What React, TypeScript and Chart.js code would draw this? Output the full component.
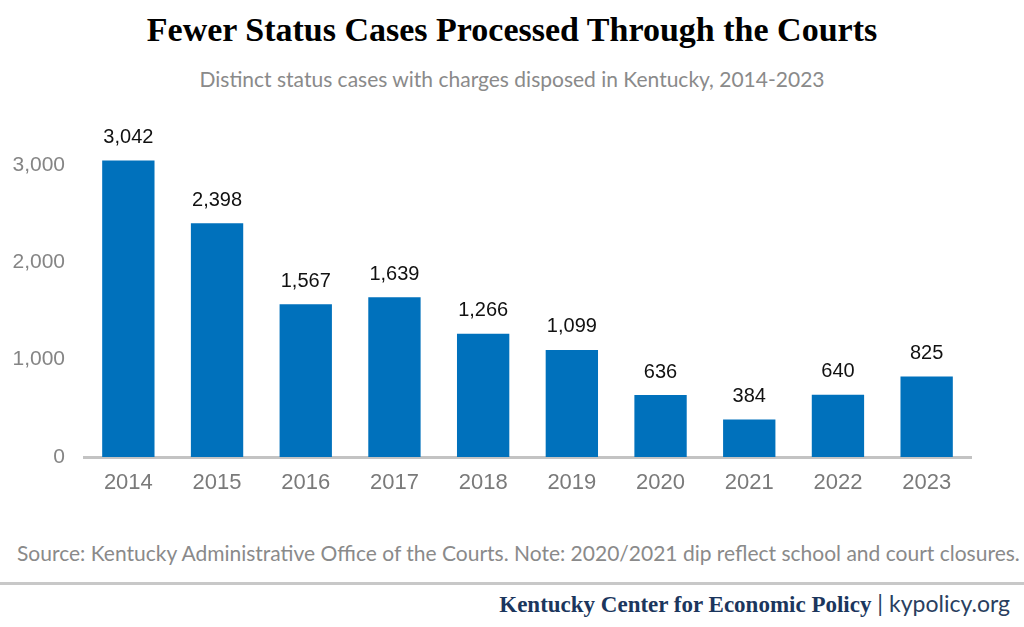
import React, { useEffect, useRef } from "react";
import { Chart, registerables } from "chart.js";

Chart.register(...registerables);

const years = ["2014", "2015", "2016", "2017", "2018", "2019", "2020", "2021", "2022", "2023"];
const cases = [3042, 2398, 1567, 1639, 1266, 1099, 636, 384, 640, 825];
const yTicks = [0, 1000, 2000, 3000];

const TITLE = "Fewer Status Cases Processed Through the Courts";
const SUBTITLE = "Distinct status cases with charges disposed in Kentucky, 2014-2023";
const SOURCE =
  "Source: Kentucky Administrative Office of the Courts. Note: 2020/2021 dip reflect school and court closures.";
const ORG = "Kentucky Center for Economic Policy";
const SITE = "kypolicy.org";

const BAR_COLOR = "#0071BC";

const valueLabels = {
  id: "valueLabels",
  afterDatasetsDraw(chart: any) {
    const ctx = chart.ctx;
    const meta = chart.getDatasetMeta(0);
    ctx.save();
    ctx.font = "20px 'Liberation Sans', Arial, sans-serif";
    ctx.fillStyle = "#111111";
    ctx.textAlign = "center";
    ctx.textBaseline = "middle";
    meta.data.forEach((el: any, i: number) => {
      const v = chart.data.datasets[0].data[i] as number;
      ctx.fillText(v.toLocaleString("en-US"), el.x, el.y - 23);
    });
    ctx.restore();
  },
};

export default function App() {
  const ref = useRef<HTMLCanvasElement | null>(null);

  useEffect(() => {
    if (!ref.current) return;
    const chart = new Chart(ref.current, {
      type: "bar",
      data: {
        labels: years,
        datasets: [
          {
            data: cases,
            backgroundColor: BAR_COLOR,
            borderWidth: 0,
            barPercentage: 0.59,
            categoryPercentage: 1,
          },
        ],
      },
      options: {
        animation: false,
        responsive: false,
        devicePixelRatio: 1,
        layout: { padding: { top: 16, right: 53, bottom: 0, left: 0 } },
        plugins: {
          legend: { display: false },
          tooltip: { enabled: false },
          title: { display: false },
        },
        scales: {
          x: {
            grid: { display: false, drawTicks: false },
            border: { display: true, color: "#c3c3c3", width: 3 },
            ticks: {
              color: "#7a7a7a",
              font: { family: "'Liberation Sans', Arial, sans-serif", size: 22 },
              padding: 13,
            },
            afterFit(scale: any) {
              scale.height = 43;
              scale.paddingLeft = 0;
              scale.paddingRight = 0;
            },
          },
          y: {
            min: 0,
            max: 3500,
            grid: { display: false, drawTicks: false },
            border: { display: false },
            afterBuildTicks(scale: any) {
              scale.ticks = yTicks.map((v) => ({ value: v }));
            },
            ticks: {
              color: "#858585",
              font: { family: "'Liberation Sans', Arial, sans-serif", size: 21 },
              padding: 19,
              callback: (v: any) => Number(v).toLocaleString("en-US"),
            },
            afterFit(scale: any) {
              scale.width = 84;
              scale.paddingTop = 0;
              scale.paddingBottom = 0;
            },
          },
        },
      },
      plugins: [valueLabels],
    });
    return () => chart.destroy();
  }, []);

  const text = (top: number, h: number, style: React.CSSProperties, content: React.ReactNode) => (
    <div
      style={{
        position: "absolute",
        top,
        left: 0,
        width: 1024,
        height: h,
        lineHeight: `${h}px`,
        whiteSpace: "nowrap",
        ...style,
      }}
    >
      {content}
    </div>
  );

  return (
    <div
      style={{
        position: "absolute",
        top: 0,
        left: 0,
        width: 1024,
        height: 627,
        background: "#ffffff",
        overflow: "hidden",
      }}
    >
      {text(
        9,
        42,
        {
          textAlign: "center",
          fontFamily: "'Liberation Serif', 'DejaVu Serif', serif",
          fontWeight: 700,
          fontSize: 34,
          color: "#000000",
        },
        TITLE
      )}
      {text(
        63,
        32,
        {
          textAlign: "center",
          fontFamily: "Lato, 'Open Sans', sans-serif",
          fontSize: 21,
          color: "#8a8a8a",
        },
        SUBTITLE
      )}
      <canvas
        ref={ref}
        width={1024}
        height={400}
        style={{ position: "absolute", top: 100, left: 0, width: 1024, height: 400 }}
      />
      {text(
        537,
        32,
        {
          left: 17,
          width: 1007,
          fontFamily: "Lato, 'Open Sans', sans-serif",
          fontSize: 21,
          color: "#8a8a8a",
        },
        SOURCE
      )}
      <div
        style={{
          position: "absolute",
          top: 582,
          left: 0,
          width: 1024,
          height: 3,
          background: "#c8c8c8",
        }}
      />
      {text(
        588,
        30,
        {
          left: 0,
          width: 1010,
          textAlign: "right",
          color: "#1b365d",
        },
        <>
          <span
            style={{
              fontFamily: "'Liberation Serif', 'DejaVu Serif', serif",
              fontWeight: 700,
              fontSize: 23,
            }}
          >
            {ORG}
          </span>
          <span style={{ fontFamily: "Lato, 'Open Sans', sans-serif", fontSize: 23, color: "#2a3f5f" }}>
            {" | "}
            {SITE}
          </span>
        </>
      )}
    </div>
  );
}
